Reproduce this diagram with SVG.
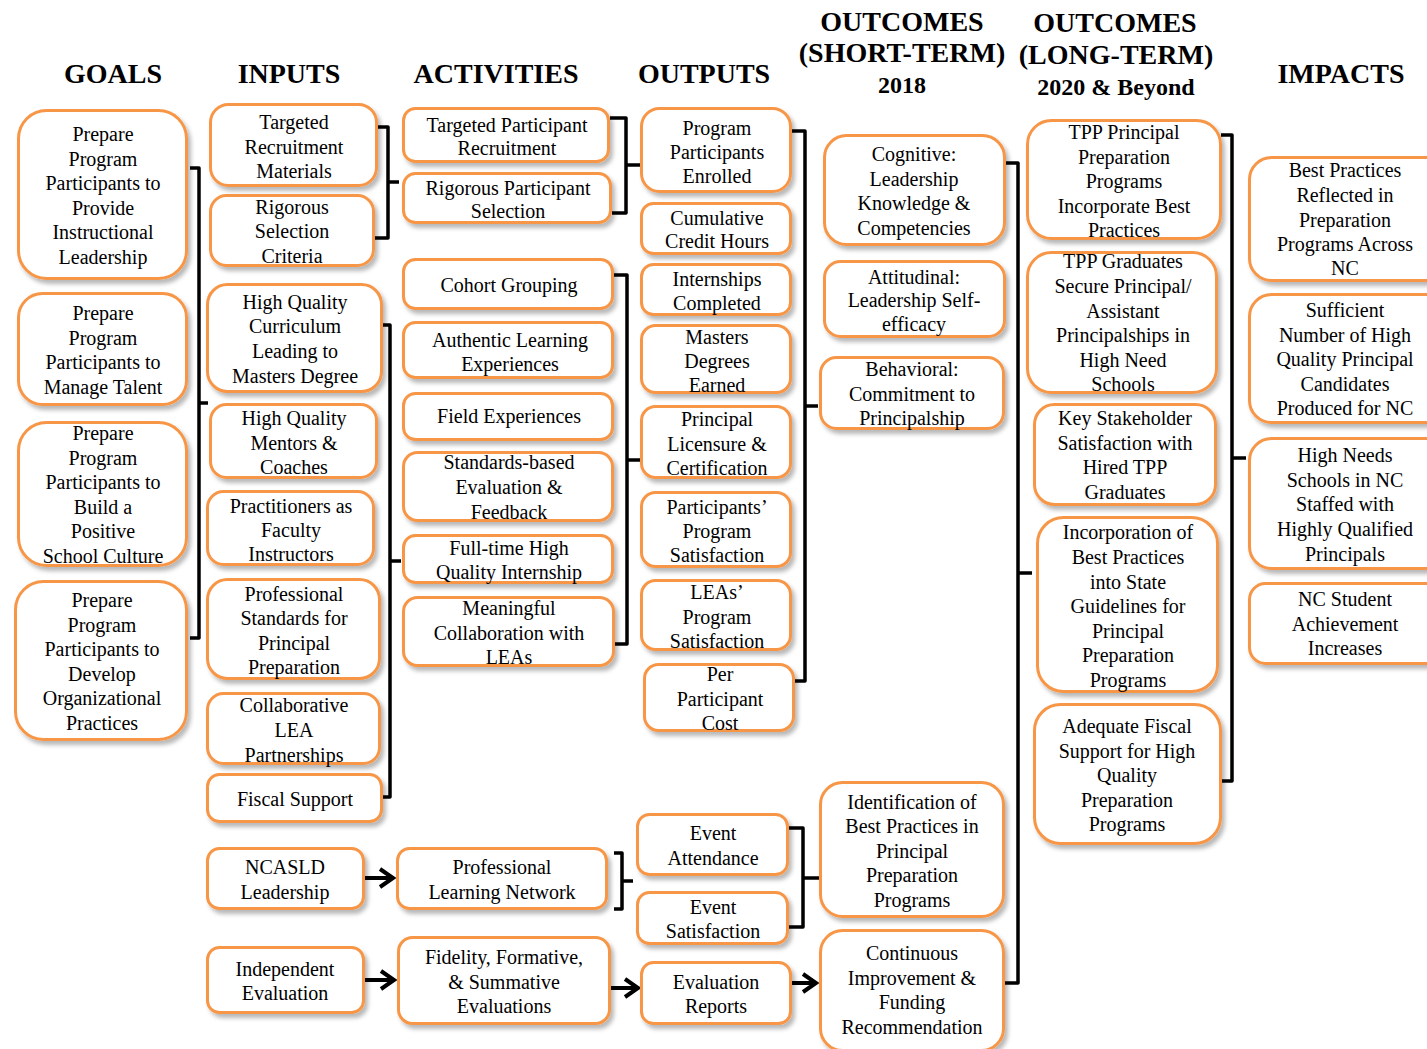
<svg xmlns="http://www.w3.org/2000/svg" width="1427" height="1049" viewBox="0 0 1427 1049">
<style>
.box{fill:#fff;stroke:#F79646;stroke-width:3;filter:url(#sh)}
.t{font-family:"Liberation Serif","Times New Roman",serif;font-size:20px;fill:#000;text-anchor:middle}
.h{font-family:"Liberation Serif","Times New Roman",serif;font-size:28px;font-weight:bold;fill:#000;text-anchor:middle}
.h2{font-family:"Liberation Serif","Times New Roman",serif;font-size:24px;font-weight:bold;fill:#000;text-anchor:middle}
.br{fill:none;stroke:#000;stroke-width:3.5;stroke-linejoin:round}
.ar{fill:none;stroke:#000;stroke-width:4;marker-end:url(#arr)}
</style>
<defs>
<filter id="sh" x="-10%" y="-10%" width="130%" height="130%">
<feDropShadow dx="3" dy="4" stdDeviation="2" flood-color="#000" flood-opacity="0.28"/>
</filter>
<marker id="arr" markerUnits="userSpaceOnUse" markerWidth="22" markerHeight="24" refX="17" refY="12" orient="auto">
<path d="M4,3 L17,12 L4,21" fill="none" stroke="#000" stroke-width="4"/>
</marker>
</defs>
<rect width="1427" height="1049" fill="#fff"/>

<g id="headers">
<text class="h" x="113" y="83">GOALS</text>
<text class="h" x="289" y="83">INPUTS</text>
<text class="h" x="496" y="83">ACTIVITIES</text>
<text class="h" x="704" y="83">OUTPUTS</text>
<text class="h" x="902" y="31">OUTCOMES</text>
<text class="h" x="902" y="62">(SHORT-TERM)</text>
<text class="h2" x="902" y="93">2018</text>
<text class="h" x="1115" y="32">OUTCOMES</text>
<text class="h" x="1116" y="64">(LONG-TERM)</text>
<text class="h2" x="1116" y="95">2020 &amp; Beyond</text>
<text class="h" x="1341" y="83">IMPACTS</text>
</g>

<g id="connectors">
<path class="br" d="M190,168 H199 V638 H190 M199,403 H208"/>
<path class="br" d="M378,127 H388 V238 H375 M388,182 H399"/>
<path class="br" d="M383,325 H390 V797 H383 M390,561 H401"/>
<path class="br" d="M610,118 H626 V213 H612 M626,165 H640"/>
<path class="br" d="M614,275 H627 V644 H614 M627,460 H640"/>
<path class="br" d="M792,131 H805 V681 H795 M805,406 H818"/>
<path class="br" d="M1004,163 H1018 V983 H1004 M1018,573 H1032"/>
<path class="br" d="M1221,135 H1232 V781 H1221 M1232,458 H1246"/>
<path class="br" d="M614,853 H622 V909 H614 M622,881 H633"/>
<path class="br" d="M788,828 H803 V927 H788 M803,878 H820"/>
<path class="ar" d="M365,878 H393"/>
<path class="ar" d="M365,980 H394"/>
<path class="ar" d="M610,988 H638"/>
<path class="ar" d="M792,983 H816"/>
</g>

<g id="G1"><rect class="box" x="18.5" y="110.5" width="168" height="168" rx="28"/>
<text class="t"><tspan x="103" y="141">Prepare</tspan><tspan x="103" y="166">Program</tspan><tspan x="103" y="190">Participants to</tspan><tspan x="103" y="215">Provide</tspan><tspan x="103" y="239">Instructional</tspan><tspan x="103" y="264">Leadership</tspan></text></g>
<g id="G2"><rect class="box" x="18.5" y="293.5" width="168" height="111" rx="24"/>
<text class="t"><tspan x="103" y="320">Prepare</tspan><tspan x="103" y="345">Program</tspan><tspan x="103" y="369">Participants to</tspan><tspan x="103" y="394">Manage Talent</tspan></text></g>
<g id="G3"><rect class="box" x="18.5" y="422.5" width="168" height="143" rx="28"/>
<text class="t"><tspan x="103" y="440">Prepare</tspan><tspan x="103" y="465">Program</tspan><tspan x="103" y="489">Participants to</tspan><tspan x="103" y="514">Build a</tspan><tspan x="103" y="538">Positive</tspan><tspan x="103" y="563">School Culture</tspan></text></g>
<g id="G4"><rect class="box" x="15.5" y="581.5" width="171" height="158" rx="28"/>
<text class="t"><tspan x="102" y="607">Prepare</tspan><tspan x="102" y="632">Program</tspan><tspan x="102" y="656">Participants to</tspan><tspan x="102" y="681">Develop</tspan><tspan x="102" y="705">Organizational</tspan><tspan x="102" y="730">Practices</tspan></text></g>

<g id="I1"><rect class="box" x="210.5" y="104.5" width="166" height="81" rx="18"/>
<text class="t"><tspan x="294" y="129">Targeted</tspan><tspan x="294" y="154">Recruitment</tspan><tspan x="294" y="178">Materials</tspan></text></g>
<g id="I2"><rect class="box" x="210.5" y="195.5" width="163" height="70" rx="16"/>
<text class="t"><tspan x="292" y="214">Rigorous</tspan><tspan x="292" y="238">Selection</tspan><tspan x="292" y="263">Criteria</tspan></text></g>
<g id="I3"><rect class="box" x="207.5" y="284.5" width="174" height="107" rx="20"/>
<text class="t"><tspan x="295" y="309">High Quality</tspan><tspan x="295" y="333">Curriculum</tspan><tspan x="295" y="358">Leading to</tspan><tspan x="295" y="383">Masters Degree</tspan></text></g>
<g id="I4"><rect class="box" x="210.5" y="404.5" width="166" height="73" rx="16"/>
<text class="t"><tspan x="294" y="425">High Quality</tspan><tspan x="294" y="450">Mentors &amp;</tspan><tspan x="294" y="474">Coaches</tspan></text></g>
<g id="I5"><rect class="box" x="207.5" y="491.5" width="166" height="73" rx="16"/>
<text class="t"><tspan x="291" y="513">Practitioners as</tspan><tspan x="291" y="537">Faculty</tspan><tspan x="291" y="561">Instructors</tspan></text></g>
<g id="I6"><rect class="box" x="207.5" y="579.5" width="172" height="99" rx="20"/>
<text class="t"><tspan x="294" y="601">Professional</tspan><tspan x="294" y="625">Standards for</tspan><tspan x="294" y="650">Principal</tspan><tspan x="294" y="674">Preparation</tspan></text></g>
<g id="I7"><rect class="box" x="207.5" y="693.5" width="172" height="70" rx="16"/>
<text class="t"><tspan x="294" y="712">Collaborative</tspan><tspan x="294" y="737">LEA</tspan><tspan x="294" y="762">Partnerships</tspan></text></g>
<g id="I8"><rect class="box" x="207.5" y="774.5" width="174" height="47" rx="12"/>
<text class="t"><tspan x="295" y="806">Fiscal Support</tspan></text></g>

<g id="A1"><rect class="box" x="403.5" y="108.5" width="205" height="53" rx="12"/>
<text class="t"><tspan x="507" y="132">Targeted Participant</tspan><tspan x="507" y="155">Recruitment</tspan></text></g>
<g id="A2"><rect class="box" x="403.5" y="173.5" width="207" height="49" rx="12"/>
<text class="t"><tspan x="508" y="195">Rigorous Participant</tspan><tspan x="508" y="218">Selection</tspan></text></g>
<g id="A3"><rect class="box" x="403.5" y="259.5" width="209" height="49" rx="12"/>
<text class="t"><tspan x="509" y="292">Cohort Grouping</tspan></text></g>
<g id="A4"><rect class="box" x="403.5" y="322.5" width="209" height="55" rx="12"/>
<text class="t"><tspan x="510" y="347">Authentic Learning</tspan><tspan x="510" y="371">Experiences</tspan></text></g>
<g id="A5"><rect class="box" x="403.5" y="393.5" width="209" height="46" rx="12"/>
<text class="t"><tspan x="509" y="423">Field Experiences</tspan></text></g>
<g id="A6"><rect class="box" x="403.5" y="452.5" width="209" height="68" rx="14"/>
<text class="t"><tspan x="509" y="469">Standards-based</tspan><tspan x="509" y="494">Evaluation &amp;</tspan><tspan x="509" y="519">Feedback</tspan></text></g>
<g id="A7"><rect class="box" x="403.5" y="535.5" width="209" height="47" rx="12"/>
<text class="t"><tspan x="509" y="555">Full-time High</tspan><tspan x="509" y="579">Quality Internship</tspan></text></g>
<g id="A8"><rect class="box" x="403.5" y="597.5" width="210" height="68" rx="14"/>
<text class="t"><tspan x="509" y="615">Meaningful</tspan><tspan x="509" y="640">Collaboration with</tspan><tspan x="509" y="664">LEAs</tspan></text></g>

<g id="O1"><rect class="box" x="641.5" y="108.5" width="149" height="83" rx="18"/>
<text class="t"><tspan x="717" y="135">Program</tspan><tspan x="717" y="159">Participants</tspan><tspan x="717" y="183">Enrolled</tspan></text></g>
<g id="O2"><rect class="box" x="641.5" y="203.5" width="149" height="50" rx="12"/>
<text class="t"><tspan x="717" y="225">Cumulative</tspan><tspan x="717" y="248">Credit Hours</tspan></text></g>
<g id="O3"><rect class="box" x="641.5" y="264.5" width="149" height="50" rx="12"/>
<text class="t"><tspan x="717" y="286">Internships</tspan><tspan x="717" y="310">Completed</tspan></text></g>
<g id="O4"><rect class="box" x="641.5" y="325.5" width="149" height="67" rx="14"/>
<text class="t"><tspan x="717" y="344">Masters</tspan><tspan x="717" y="368">Degrees</tspan><tspan x="717" y="392">Earned</tspan></text></g>
<g id="O5"><rect class="box" x="641.5" y="406.5" width="149" height="71" rx="14"/>
<text class="t"><tspan x="717" y="426">Principal</tspan><tspan x="717" y="451">Licensure &amp;</tspan><tspan x="717" y="475">Certification</tspan></text></g>
<g id="O6"><rect class="box" x="641.5" y="492.5" width="149" height="74" rx="14"/>
<text class="t"><tspan x="717" y="514">Participants’</tspan><tspan x="717" y="538">Program</tspan><tspan x="717" y="562">Satisfaction</tspan></text></g>
<g id="O7"><rect class="box" x="641.5" y="580.5" width="149" height="69" rx="14"/>
<text class="t"><tspan x="717" y="599">LEAs’</tspan><tspan x="717" y="624">Program</tspan><tspan x="717" y="648">Satisfaction</tspan></text></g>
<g id="O8"><rect class="box" x="644.5" y="664.5" width="149" height="66" rx="14"/>
<text class="t"><tspan x="720" y="681">Per</tspan><tspan x="720" y="706">Participant</tspan><tspan x="720" y="730">Cost</tspan></text></g>

<g id="S1"><rect class="box" x="824.5" y="135.5" width="180" height="109" rx="22"/>
<text class="t"><tspan x="914" y="161">Cognitive:</tspan><tspan x="914" y="186">Leadership</tspan><tspan x="914" y="210">Knowledge &amp;</tspan><tspan x="914" y="235">Competencies</tspan></text></g>
<g id="S2"><rect class="box" x="824.5" y="261.5" width="180" height="75" rx="16"/>
<text class="t"><tspan x="914" y="284">Attitudinal:</tspan><tspan x="914" y="307">Leadership Self-</tspan><tspan x="914" y="331">efficacy</tspan></text></g>
<g id="S3"><rect class="box" x="820.5" y="357.5" width="183" height="71" rx="16"/>
<text class="t"><tspan x="912" y="376">Behavioral:</tspan><tspan x="912" y="401">Commitment to</tspan><tspan x="912" y="425">Principalship</tspan></text></g>
<g id="S4"><rect class="box" x="820.5" y="782.5" width="183" height="134" rx="22"/>
<text class="t"><tspan x="912" y="809">Identification of</tspan><tspan x="912" y="833">Best Practices in</tspan><tspan x="912" y="858">Principal</tspan><tspan x="912" y="882">Preparation</tspan><tspan x="912" y="907">Programs</tspan></text></g>
<g id="S5"><rect class="box" x="820.5" y="930.5" width="183" height="120" rx="22"/>
<text class="t"><tspan x="912" y="960">Continuous</tspan><tspan x="912" y="985">Improvement &amp;</tspan><tspan x="912" y="1009">Funding</tspan><tspan x="912" y="1034">Recommendation</tspan></text></g>

<g id="L1"><rect class="box" x="1027.5" y="120.5" width="193" height="118" rx="24"/>
<text class="t"><tspan x="1124" y="139">TPP Principal</tspan><tspan x="1124" y="164">Preparation</tspan><tspan x="1124" y="188">Programs</tspan><tspan x="1124" y="213">Incorporate Best</tspan><tspan x="1124" y="237">Practices</tspan></text></g>
<g id="L2"><rect class="box" x="1027.5" y="252.5" width="189" height="140" rx="24"/>
<text class="t"><tspan x="1123" y="268">TPP Graduates</tspan><tspan x="1123" y="293">Secure Principal/</tspan><tspan x="1123" y="318">Assistant</tspan><tspan x="1123" y="342">Principalships in</tspan><tspan x="1123" y="367">High Need</tspan><tspan x="1123" y="391">Schools</tspan></text></g>
<g id="L3"><rect class="box" x="1034.5" y="404.5" width="181" height="100" rx="20"/>
<text class="t"><tspan x="1125" y="425">Key Stakeholder</tspan><tspan x="1125" y="450">Satisfaction with</tspan><tspan x="1125" y="474">Hired TPP</tspan><tspan x="1125" y="499">Graduates</tspan></text></g>
<g id="L4"><rect class="box" x="1037.5" y="517.5" width="180" height="174" rx="26"/>
<text class="t"><tspan x="1128" y="539">Incorporation of</tspan><tspan x="1128" y="564">Best Practices</tspan><tspan x="1128" y="589">into State</tspan><tspan x="1128" y="613">Guidelines for</tspan><tspan x="1128" y="638">Principal</tspan><tspan x="1128" y="662">Preparation</tspan><tspan x="1128" y="687">Programs</tspan></text></g>
<g id="L5"><rect class="box" x="1034.5" y="704.5" width="186" height="139" rx="26"/>
<text class="t"><tspan x="1127" y="733">Adequate Fiscal</tspan><tspan x="1127" y="758">Support for High</tspan><tspan x="1127" y="782">Quality</tspan><tspan x="1127" y="807">Preparation</tspan><tspan x="1127" y="831">Programs</tspan></text></g>

<g id="P1"><rect class="box" x="1249.5" y="157.5" width="200" height="123" rx="22"/>
<text class="t"><tspan x="1345" y="177">Best Practices</tspan><tspan x="1345" y="202">Reflected in</tspan><tspan x="1345" y="227">Preparation</tspan><tspan x="1345" y="251">Programs Across</tspan><tspan x="1345" y="275">NC</tspan></text></g>
<g id="P2"><rect class="box" x="1249.5" y="294.5" width="200" height="128" rx="22"/>
<text class="t"><tspan x="1345" y="317">Sufficient</tspan><tspan x="1345" y="342">Number of High</tspan><tspan x="1345" y="366">Quality Principal</tspan><tspan x="1345" y="391">Candidates</tspan><tspan x="1345" y="415">Produced for NC</tspan></text></g>
<g id="P3"><rect class="box" x="1249.5" y="438.5" width="200" height="130" rx="22"/>
<text class="t"><tspan x="1345" y="462">High Needs</tspan><tspan x="1345" y="487">Schools in NC</tspan><tspan x="1345" y="511">Staffed with</tspan><tspan x="1345" y="536">Highly Qualified</tspan><tspan x="1345" y="561">Principals</tspan></text></g>
<g id="P4"><rect class="box" x="1249.5" y="583.5" width="200" height="80" rx="16"/>
<text class="t"><tspan x="1345" y="606">NC Student</tspan><tspan x="1345" y="631">Achievement</tspan><tspan x="1345" y="655">Increases</tspan></text></g>

<g id="N1"><rect class="box" x="207.5" y="848.5" width="156" height="60" rx="12"/>
<text class="t"><tspan x="285" y="874">NCASLD</tspan><tspan x="285" y="899">Leadership</tspan></text></g>
<g id="N2"><rect class="box" x="397.5" y="848.5" width="209" height="60" rx="12"/>
<text class="t"><tspan x="502" y="874">Professional</tspan><tspan x="502" y="899">Learning Network</tspan></text></g>
<g id="E1"><rect class="box" x="637.5" y="814.5" width="150" height="60" rx="12"/>
<text class="t"><tspan x="713" y="840">Event</tspan><tspan x="713" y="865">Attendance</tspan></text></g>
<g id="E2"><rect class="box" x="637.5" y="892.5" width="150" height="51" rx="12"/>
<text class="t"><tspan x="713" y="914">Event</tspan><tspan x="713" y="938">Satisfaction</tspan></text></g>
<g id="V1"><rect class="box" x="207.5" y="947.5" width="156" height="65" rx="12"/>
<text class="t"><tspan x="285" y="976">Independent</tspan><tspan x="285" y="1000">Evaluation</tspan></text></g>
<g id="V2"><rect class="box" x="398.5" y="937.5" width="211" height="86" rx="14"/>
<text class="t"><tspan x="504" y="964">Fidelity, Formative,</tspan><tspan x="504" y="989">&amp; Summative</tspan><tspan x="504" y="1013">Evaluations</tspan></text></g>
<g id="V3"><rect class="box" x="641.5" y="962.5" width="149" height="61" rx="12"/>
<text class="t"><tspan x="716" y="989">Evaluation</tspan><tspan x="716" y="1013">Reports</tspan></text></g>
</svg>
